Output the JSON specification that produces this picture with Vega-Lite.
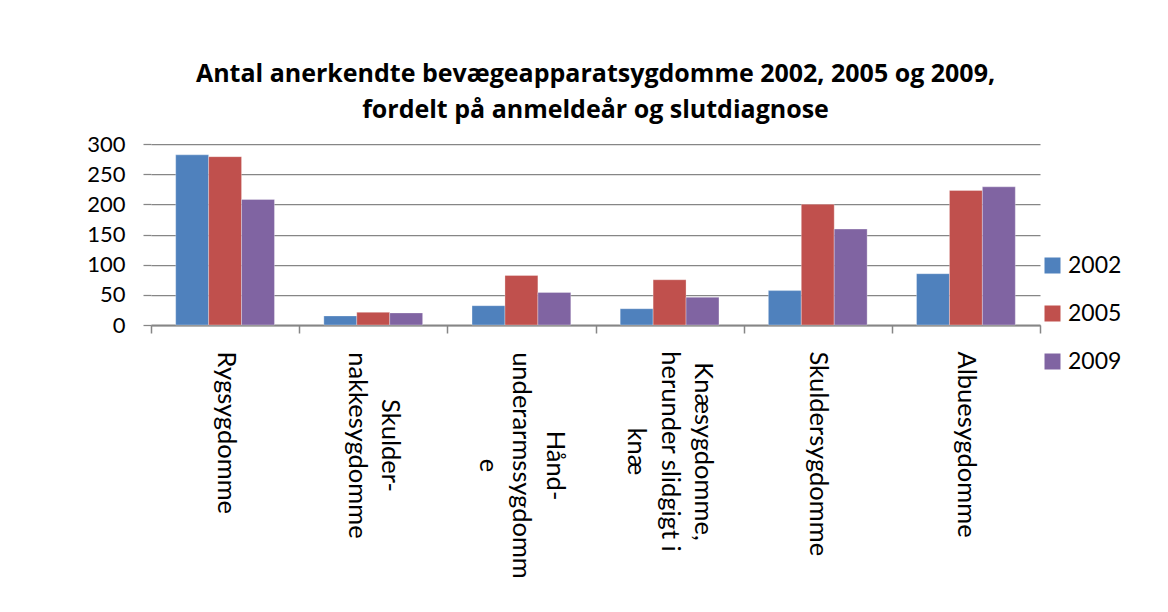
{
  "$schema": "https://vega.github.io/schema/vega-lite/v6.json",
  "autosize": {"type": "none"},
  "width": 889,
  "height": 181,
  "padding": {"left": 151, "top": 144, "right": 128, "bottom": 287},
  "background": "white",
  "title": {
    "text": ["Antal anerkendte bevægeapparatsygdomme 2002, 2005 og 2009,", "fordelt på anmeldeår og slutdiagnose"],
    "font": "Open Sans",
    "fontWeight": "bold",
    "fontSize": 25,
    "lineHeight": 36.5,
    "color": "black",
    "anchor": "middle",
    "baseline": "alphabetic",
    "offset": 26,
    "dy": 36
  },
  "data": {
    "values": [
      {"diagnose": "Rygsygdomme", "aar": "2002", "antal": 282},
      {"diagnose": "Rygsygdomme", "aar": "2005", "antal": 279},
      {"diagnose": "Rygsygdomme", "aar": "2009", "antal": 208},
      {"diagnose": "Skulder-nakkesygdomme", "aar": "2002", "antal": 15},
      {"diagnose": "Skulder-nakkesygdomme", "aar": "2005", "antal": 21},
      {"diagnose": "Skulder-nakkesygdomme", "aar": "2009", "antal": 20},
      {"diagnose": "Hånd-underarmssygdomme", "aar": "2002", "antal": 32},
      {"diagnose": "Hånd-underarmssygdomme", "aar": "2005", "antal": 82},
      {"diagnose": "Hånd-underarmssygdomme", "aar": "2009", "antal": 54},
      {"diagnose": "Knæsygdomme, herunder slidgigt i knæ", "aar": "2002", "antal": 27},
      {"diagnose": "Knæsygdomme, herunder slidgigt i knæ", "aar": "2005", "antal": 75},
      {"diagnose": "Knæsygdomme, herunder slidgigt i knæ", "aar": "2009", "antal": 46},
      {"diagnose": "Skuldersygdomme", "aar": "2002", "antal": 57},
      {"diagnose": "Skuldersygdomme", "aar": "2005", "antal": 200},
      {"diagnose": "Skuldersygdomme", "aar": "2009", "antal": 159},
      {"diagnose": "Albuesygdomme", "aar": "2002", "antal": 85},
      {"diagnose": "Albuesygdomme", "aar": "2005", "antal": 223},
      {"diagnose": "Albuesygdomme", "aar": "2009", "antal": 229}
    ]
  },
  "mark": {"type": "bar", "stroke": "white", "strokeWidth": 0.5, "strokeOpacity": 0.6},
  "encoding": {
    "x": {
      "field": "diagnose",
      "type": "nominal",
      "sort": null,
      "title": null,
      "scale": {"paddingInner": 0, "paddingOuter": 0},
      "axis": {
        "labelAngle": 90,
        "labelAlign": {"expr": "indexof(['Skulder-nakkesygdomme', 'Hånd-underarmssygdomme', 'Knæsygdomme, herunder slidgigt i knæ'], datum.value) >= 0 ? 'center' : 'left'"},
        "labelBaseline": "middle",
        "labelFont": "Lato",
        "labelFontSize": 25.5,
        "labelLineHeight": 33.5,
        "labelColor": "black",
        "labelLimit": 400,
        "labelPadding": {"expr": "datum.value == 'Skulder-nakkesygdomme' ? 112 : datum.value == 'Hånd-underarmssygdomme' ? 132 : datum.value == 'Knæsygdomme, herunder slidgigt i knæ' ? 118 : 18"},
        "labelOffset": {"expr": "datum.value == 'Skulder-nakkesygdomme' ? 16.5 : (datum.value == 'Hånd-underarmssygdomme' || datum.value == 'Knæsygdomme, herunder slidgigt i knæ') ? 33 : 0"},
        "labelExpr": "datum.value == 'Skulder-nakkesygdomme' ? ['Skulder-', 'nakkesygdomme'] : datum.value == 'Hånd-underarmssygdomme' ? ['Hånd-', 'underarmssygdomm', 'e'] : datum.value == 'Knæsygdomme, herunder slidgigt i knæ' ? ['Knæsygdomme,', 'herunder slidgigt i', 'knæ'] : datum.value",
        "tickBand": "extent",
        "tickSize": 8,
        "tickColor": "#868686",
        "tickWidth": 1.5,
        "domainColor": "#868686",
        "domainWidth": 2,
        "grid": false
      }
    },
    "xOffset": {
      "field": "aar",
      "type": "nominal",
      "scale": {"paddingInner": 0, "paddingOuter": 0.75}
    },
    "y": {
      "field": "antal",
      "type": "quantitative",
      "title": null,
      "scale": {"domain": [0, 300], "nice": false},
      "axis": {
        "values": [0, 50, 100, 150, 200, 250, 300],
        "domain": false,
        "grid": true,
        "gridColor": "#868686",
        "gridWidth": 1.25,
        "tickSize": 8,
        "tickColor": "#868686",
        "tickWidth": 1.25,
        "labelFont": "Lato",
        "labelFontSize": 22,
        "labelColor": "black",
        "labelPadding": 18
      }
    },
    "color": {
      "field": "aar",
      "type": "nominal",
      "title": null,
      "scale": {"domain": ["2002", "2005", "2009"], "range": ["#4F81BD", "#C0504D", "#8064A2"]},
      "legend": {
        "orient": "none",
        "legendX": 890,
        "legendY": 110,
        "symbolType": "square",
        "symbolSize": 256,
        "symbolStrokeWidth": 0,
        "labelFont": "Lato",
        "labelFontSize": 23,
        "labelColor": "black",
        "labelOffset": 4,
        "rowPadding": 24
      }
    }
  },
  "config": {"view": {"stroke": null}}
}
